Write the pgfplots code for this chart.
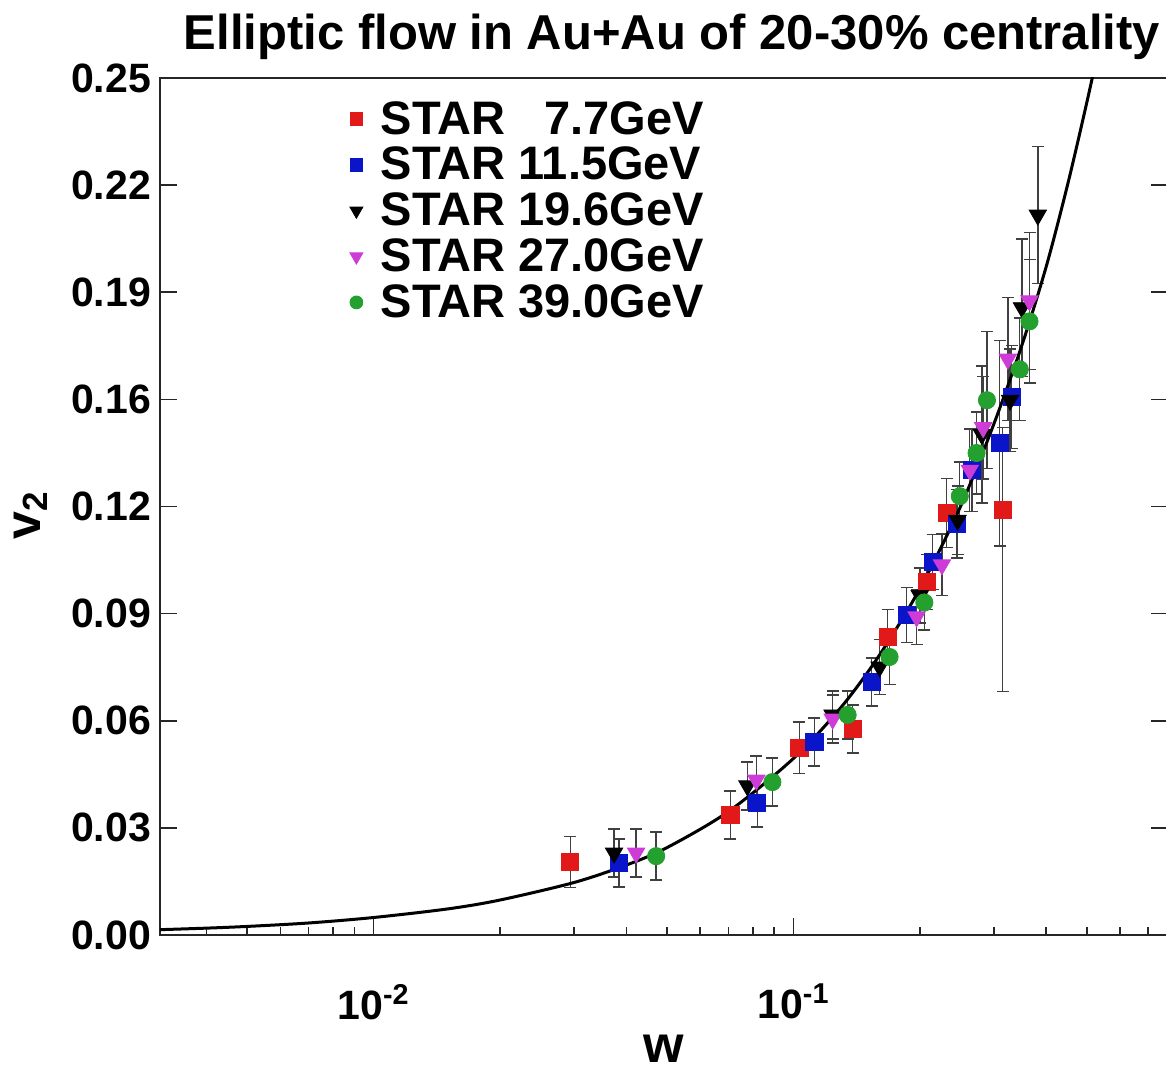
\documentclass[border=0pt]{standalone}
\usepackage{fontspec}
\setmainfont{Liberation Sans}
\usepackage{pgfplots}
\pgfplotsset{compat=1.18}
\definecolor{cred}{RGB}{225,25,25}
\definecolor{cblue}{RGB}{10,20,200}
\definecolor{cmag}{RGB}{205,60,215}
\definecolor{cgreen}{RGB}{35,160,45}
\begin{document}
\begin{tikzpicture}
\begin{axis}[
  scale only axis,
  width=504pt, height=428.5pt,
  xmode=log,
  xmin=0.0031, xmax=0.78,
  ymin=0, ymax=0.25,
  axis line style={line width=1.1pt, black!85},
  tick style={line width=0.8pt, black!85},
  major tick length=8.5pt, minor tick length=4pt,
  tick align=inside,
  xtick pos=bottom,
  ytick pos=both,
  xtick={0.01,0.1},
  xticklabels={10\textsuperscript{-2},10\textsuperscript{-1}},
  minor xtick={0.004,0.005,0.006,0.007,0.008,0.009,0.02,0.03,0.04,0.05,0.06,0.07,0.08,0.09,0.2,0.3,0.4,0.5,0.6,0.7},
  ytick={0,0.03125,0.0625,0.09375,0.125,0.15625,0.1875,0.21875,0.25},
  yticklabels={0.00,0.03,0.06,0.09,0.12,0.16,0.19,0.22,0.25},
  ticklabel style={font=\fontsize{20.5}{22}\selectfont\bfseries},
  xticklabel style={yshift=-21pt},
  yticklabel style={xshift=-1pt},
  title={Elliptic flow in Au+Au of 20-30\% centrality},
  title style={at={(0.5,1)}, anchor=base, yshift=8pt, xshift=4pt, font=\fontsize{24.5}{26}\selectfont\bfseries},
  xlabel={w},
  xlabel style={at={(axis description cs:0.5,-0.133)}, anchor=center, font=\fontsize{26}{27}\selectfont\bfseries},
  ylabel={v\textsubscript{2}},
  ylabel style={at={(axis description cs:-0.128,0.49)}, anchor=center, font=\fontsize{25}{26}\selectfont\bfseries},
  legend style={draw=none, fill=none, at={(0.188,0.978)}, anchor=north west,
     font=\fontsize{23.5}{24}\selectfont\bfseries, row sep=1pt, column sep=7pt, inner sep=0pt,
     cells={anchor=west}},
  legend image post style={scale=0.75},
  legend cell align=left,
  error bars/y dir=both, error bars/y explicit,
  error bars/error bar style={black!75, line width=0.7pt},
  error bars/error mark options={rotate=90, mark size=3pt, black!75, line width=0.7pt},
]
\addplot[only marks, mark=square*, mark size=4.3pt, color=cred] coordinates {
 (0.0294,0.0213) +- (0,0.0075)
 (0.0708,0.0350) +- (0,0.007)
 (0.1033,0.0546) +- (0,0.0075)
 (0.1383,0.0601) +- (0,0.007)
 (0.1676,0.0869) +- (0,0.008)
 (0.2077,0.1030) +- (0,0.008)
 (0.2318,0.1231) +- (0,0.010)
 (0.3152,0.1240) += (0,0.024) -= (0,0.053)
};
\addlegendentry{STAR\hphantom{1} 7.7GeV}
\addplot[only marks, mark=square*, mark size=4.3pt, color=cblue] coordinates {
 (0.0384,0.0210) +- (0,0.007)
 (0.0820,0.0385) +- (0,0.007)
 (0.1122,0.0563) +- (0,0.007)
 (0.1535,0.0738) +- (0,0.007)
 (0.1860,0.0933) +- (0,0.008)
 (0.2145,0.1088) +- (0,0.008)
 (0.2450,0.1200) +- (0,0.010)
 (0.2660,0.1356) +- (0,0.012)
 (0.3100,0.1435) +- (0,0.030)
 (0.3310,0.1570) +- (0,0.015)
};
\addlegendentry{STAR 11.5GeV}
\addplot[only marks, mark=triangle*, mark options={rotate=180}, mark size=5pt, color=black] coordinates {
 (0.0374,0.0239) +- (0,0.007)
 (0.0777,0.0435) +- (0,0.007)
 (0.1239,0.0642) +- (0,0.007)
 (0.1604,0.0782) +- (0,0.008)
 (0.2000,0.0990) +- (0,0.008)
 (0.2460,0.1210) +- (0,0.010)
 (0.2810,0.1460) +- (0,0.020)
 (0.3280,0.1560) +- (0,0.015)
 (0.3500,0.1830) +- (0,0.020)
 (0.3820,0.2100) +- (0,0.020)
};
\addlegendentry{STAR 19.6GeV}
\addplot[only marks, mark=triangle*, mark options={rotate=180}, mark size=5pt, color=cmag] coordinates {
 (0.0422,0.0239) +- (0,0.007)
 (0.0816,0.0452) +- (0,0.007)
 (0.1240,0.0630) +- (0,0.007)
 (0.1965,0.0928) +- (0,0.008)
 (0.2258,0.1080) +- (0,0.009)
 (0.2630,0.1356) +- (0,0.012)
 (0.2830,0.1480) +- (0,0.015)
 (0.3240,0.1680) +- (0,0.018)
 (0.3650,0.1850) +- (0,0.020)
};
\addlegendentry{STAR 27.0GeV}
\addplot[only marks, mark=*, mark size=4.3pt, color=cgreen] coordinates {
 (0.0471,0.0230) +- (0,0.007)
 (0.0891,0.0446) +- (0,0.007)
 (0.1346,0.0642) +- (0,0.007)
 (0.1694,0.0811) +- (0,0.008)
 (0.2050,0.0970) +- (0,0.008)
 (0.2490,0.1280) +- (0,0.010)
 (0.2730,0.1406) +- (0,0.012)
 (0.2890,0.1560) +- (0,0.020)
 (0.3460,0.1650) +- (0,0.015)
 (0.3650,0.1790) +- (0,0.018)
};
\addlegendentry{STAR 39.0GeV}
\addplot[black, line width=1.5pt, smooth, no marks, forget plot, error bars/y dir=none] coordinates {
 (0.0031,0.00155) (0.004,0.0020) (0.005,0.0025) (0.007,0.0035) (0.01,0.0051)
 (0.015,0.0076) (0.02,0.0102) (0.03,0.0153) (0.04,0.0204) (0.05,0.0255)
 (0.07,0.0360) (0.1,0.0515) (0.13,0.0665) (0.16,0.0815) (0.2,0.1010)
 (0.25,0.1250) (0.3,0.1490) (0.35,0.1720) (0.4,0.1950) (0.45,0.2190)
 (0.5,0.2430) (0.55,0.2660)
};
\coordinate (O) at (rel axis cs:0,0);
\coordinate (T) at (rel axis cs:1,1);
\end{axis}
\pgfresetboundingbox
\path ([xshift=-80pt,yshift=-72pt]O) rectangle ([xshift=-1pt,yshift=39pt]T);
\end{tikzpicture}
\end{document}
